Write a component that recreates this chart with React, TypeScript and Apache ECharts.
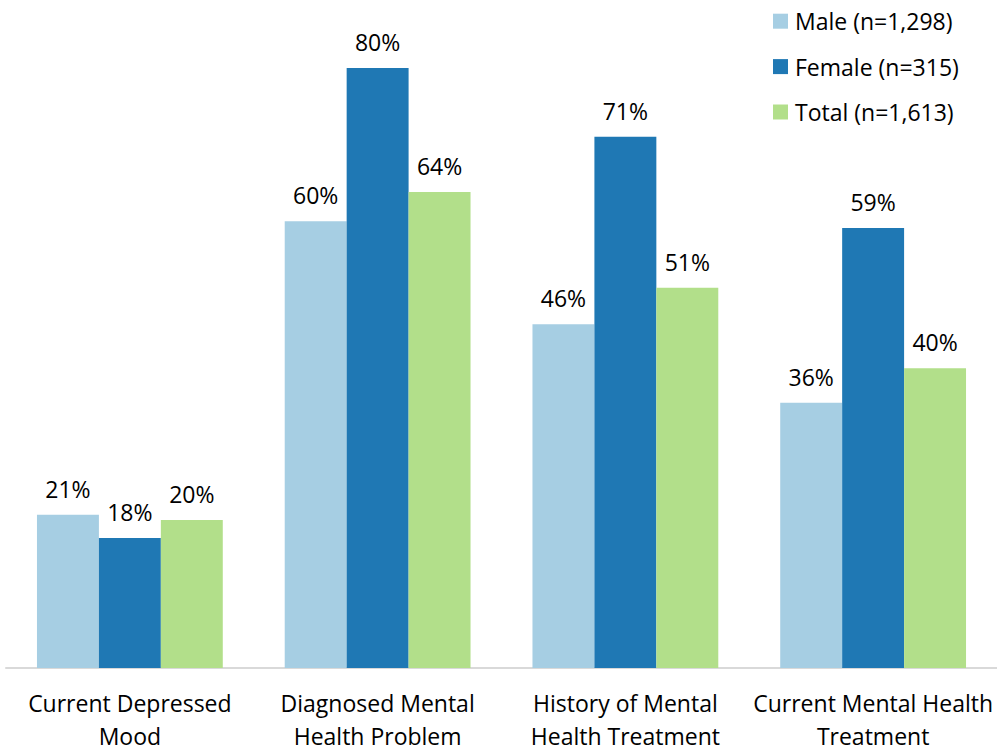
import React, { useEffect, useRef } from "react";
import * as echarts from "echarts";

const categories = [
  "Current Depressed\nMood",
  "Diagnosed Mental\nHealth Problem",
  "History of Mental\nHealth Treatment",
  "Current Mental Health\nTreatment",
];
const seriesNames = ["Male (n=1,298)", "Female (n=315)", "Total (n=1,613)"];
const maleValues = [20.5, 59.8, 46.0, 35.5];
const femaleValues = [17.4, 80.3, 71.1, 58.9];
const totalValues = [19.8, 63.7, 50.9, 40.1];
const maleLabels = ["21%", "60%", "46%", "36%"];
const femaleLabels = ["18%", "80%", "71%", "59%"];
const totalLabels = ["20%", "64%", "51%", "40%"];
const colors = ["#a6cee3", "#1f78b4", "#b2df8a"];

const FONT = "Open Sans";

export default function App() {
  const ref = useRef<HTMLDivElement>(null);
  useEffect(() => {
    if (!ref.current) return;
    const chart = echarts.init(ref.current, null, { renderer: "svg" });
    const values = [maleValues, femaleValues, totalValues];
    const labels = [maleLabels, femaleLabels, totalLabels];
    chart.setOption({
      animation: false,
      textStyle: { fontFamily: FONT },
      legend: {
        orient: "vertical",
        left: 773,
        top: 9.7,
        padding: 0,
        itemWidth: 15,
        itemHeight: 15,
        itemGap: 22.4,
        icon: "rect",
        data: seriesNames,
        textStyle: {
          fontFamily: FONT,
          fontSize: 23,
          lineHeight: 20,
          color: "#000",
          padding: [0, 0, 0, 2],
        },
      },
      grid: { left: 6, right: 0, top: 0, bottom: 80, containLabel: false },
      xAxis: {
        type: "category",
        data: categories,
        axisLine: { show: true, lineStyle: { color: "#d9d9d9", width: 2 } },
        axisTick: { show: false },
        axisLabel: {
          interval: 0,
          fontFamily: FONT,
          fontSize: 23,
          lineHeight: 33,
          margin: 18,
          color: "#000",
        },
      },
      yAxis: {
        type: "value",
        min: 0,
        max: 89.4,
        show: false,
        splitLine: { show: false },
      },
      series: seriesNames.map((name, i) => ({
        name,
        type: "bar",
        data: values[i],
        barGap: "0%",
        barCategoryGap: "25%",
        itemStyle: { color: colors[i] },
        label: {
          show: true,
          position: "top",
          distance: 14.5,
          fontFamily: FONT,
          fontSize: 23,
          lineHeight: 23,
          color: "#000",
          formatter: (p: any) => labels[i][p.dataIndex],
        },
      })),
    });
    return () => chart.dispose();
  }, []);
  return (
    <div
      ref={ref}
      style={{ position: "absolute", left: 0, top: 0, width: 997, height: 752, background: "#fff" }}
    />
  );
}
